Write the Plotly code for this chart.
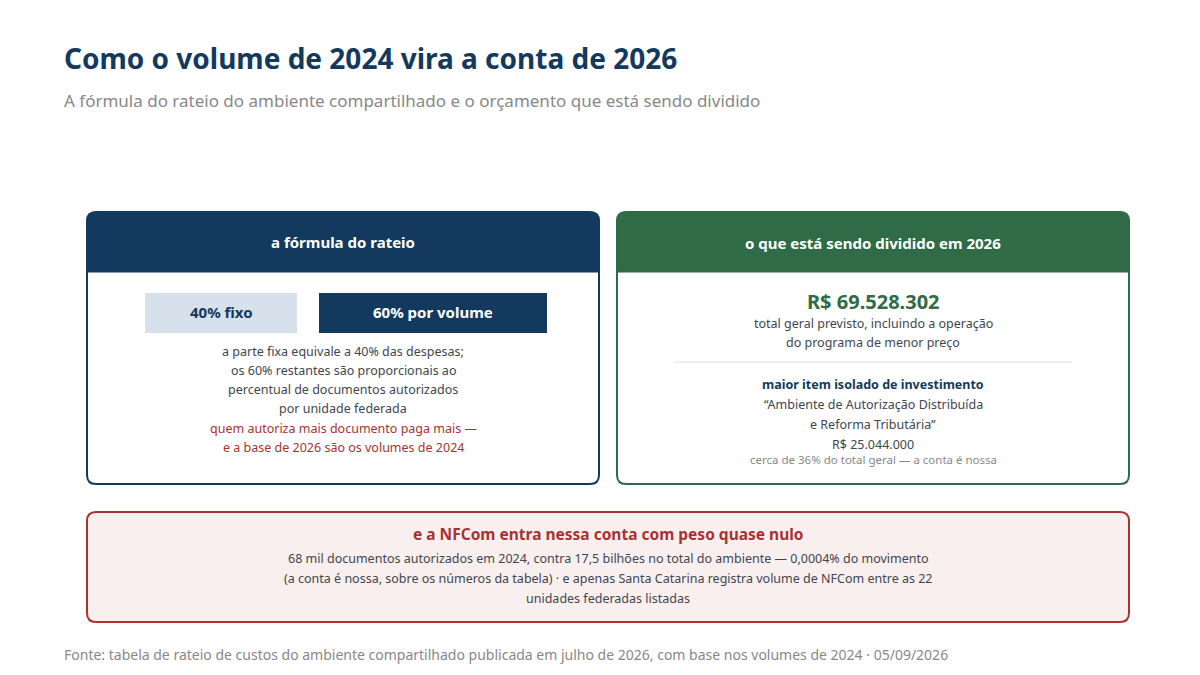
import plotly.graph_objects as go

W, H = 1200, 675
title = "Como o volume de 2024 vira a conta de 2026"
subtitle = "A fórmula do rateio do ambiente compartilhado e o orçamento que está sendo dividido"
split_labels = ["40% fixo", "60% por volume"]
split_values = [40, 60]
total_budget = "R$ 69.528.302"
top_item_value = "R$ 25.044.000"
top_item_share = "36%"
nfcom_docs = "68 mil"
env_total = "17,5 bilhões"
nfcom_share = "0,0004%"
source = "Fonte: tabela de rateio de custos do ambiente compartilhado publicada em julho de 2026, com base nos volumes de 2024 · 05/09/2026"

NAVY = "#133a5e"; GREEN = "#2e6b46"; RED = "#a83232"; GREY = "#888888"; TXT = "#3f4650"
FONT = "Noto Sans"

def px(x): return x / W
def py(y): return 1 - y / H

def rpath(x0, y0, x1, y1, r, top=True, bottom=True):
    rx, ry = r / W, r / H
    X0, X1, Y0, Y1 = px(x0), px(x1), py(y0), py(y1)  # Y0 top
    p = ""
    if top:
        p += f"M{X0},{Y0-ry} Q{X0},{Y0} {X0+rx},{Y0} L{X1-rx},{Y0} Q{X1},{Y0} {X1},{Y0-ry} "
    else:
        p += f"M{X0},{Y0} L{X1},{Y0} "
    if bottom:
        p += f"L{X1},{Y1+ry} Q{X1},{Y1} {X1-rx},{Y1} L{X0+rx},{Y1} Q{X0},{Y1} {X0},{Y1+ry} Z"
    else:
        p += f"L{X1},{Y1} L{X0},{Y1} Z"
    return p

shapes = []
def box(x0, y0, x1, y1, r, fill, line, lw=2, top=True, bottom=True):
    shapes.append(dict(type="path", xref="paper", yref="paper",
                       path=rpath(x0, y0, x1, y1, r, top, bottom),
                       fillcolor=fill, line=dict(color=line, width=lw)))

box(79, 204, 591, 476, 9, "white", NAVY)
box(79, 204, 591, 264, 9, NAVY, NAVY, 1, True, False)
box(609, 204, 1121, 476, 9, "white", GREEN)
box(609, 204, 1121, 264, 9, GREEN, GREEN, 1, True, False)
box(79, 504, 1121, 614, 9, "#f9efee", RED)
# proportional split boxes
x = 137; gap = 22; unit = (539 - 137 - gap) / sum(split_values)
cols = [("#d6e1ec", NAVY), (NAVY, "white")]
split_pos = []
for v, (f, t) in zip(split_values, cols):
    w = v * unit
    shapes.append(dict(type="rect", xref="paper", yref="paper", x0=px(x), x1=px(x + w),
                       y0=py(325), y1=py(285), fillcolor=f, line=dict(width=0)))
    split_pos.append((x + w / 2, t)); x += w + gap
shapes.append(dict(type="line", xref="paper", yref="paper", x0=px(666), x1=px(1064),
                   y0=py(354), y1=py(354), line=dict(color="#dddddd", width=1)))

ann = []
def t(x, y, s, size, color, bold=False, anchor="center"):
    ann.append(dict(x=px(x), y=py(y), xref="paper", yref="paper", text=f"<b>{s}</b>" if bold else s,
                    showarrow=False, xanchor=anchor, yanchor="middle",
                    font=dict(family=FONT, size=size, color=color)))

t(54, 50, title, 28, NAVY, True, "left")
t(54, 92, subtitle, 17, GREY, False, "left")
t(335, 234, "a fórmula do rateio", 15, "white", True)
t(865, 235, "o que está sendo dividido em 2026", 15, "white", True)
for lab, (cx, c) in zip(split_labels, split_pos):
    t(cx, 304, lab, 15, c, True)
lines = ["a parte fixa equivale a 40% das despesas;", "os 60% restantes são proporcionais ao",
         "percentual de documentos autorizados", "por unidade federada"]
for i, s in enumerate(lines):
    t(335, 343 + 19.2 * i, s, 12.5, TXT)
t(335, 420, "quem autoriza mais documento paga mais —", 12.5, RED)
t(335, 439, "e a base de 2026 são os volumes de 2024", 12.5, RED)
t(865, 294, total_budget, 20, GREEN, True)
t(865, 315, "total geral previsto, incluindo a operação", 12.5, TXT)
t(865, 334, "do programa de menor preço", 12.5, TXT)
t(865, 376, "maior item isolado de investimento", 12.5, NAVY, True)
t(865, 396, "“Ambiente de Autorização Distribuída", 12.5, TXT)
t(865, 416, "e Reforma Tributária”", 12.5, TXT)
t(865, 436, top_item_value, 12.5, TXT)
t(865, 451, f"cerca de {top_item_share} do total geral — a conta é nossa", 11.5, GREY)
t(600, 526, "e a NFCom entra nessa conta com peso quase nulo", 15.5, RED, True)
t(600, 550, f"{nfcom_docs} documentos autorizados em 2024, contra {env_total} no total do ambiente — {nfcom_share} do movimento", 12.5, TXT)
t(600, 570, "(a conta é nossa, sobre os números da tabela) · e apenas Santa Catarina registra volume de NFCom entre as 22", 12.5, TXT)
t(600, 590, "unidades federadas listadas", 12.5, TXT)
t(54, 646, source, 14, GREY, False, "left")

fig = go.Figure()
fig.update_layout(width=W, height=H, margin=dict(l=0, r=0, t=0, b=0), plot_bgcolor="white",
                  paper_bgcolor="white", shapes=shapes, annotations=ann,
                  xaxis=dict(visible=False), yaxis=dict(visible=False), showlegend=False)
fig.write_html("out.html")
